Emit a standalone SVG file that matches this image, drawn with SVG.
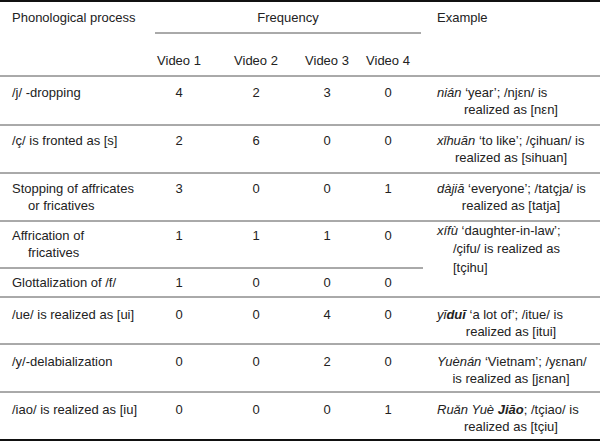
<svg xmlns="http://www.w3.org/2000/svg" width="600" height="441" viewBox="0 0 600 441">
<style>
text{font-family:"Liberation Sans",Arial,sans-serif;font-size:13px;fill:#222}
.c{text-anchor:middle}
.i{font-style:italic}
.b{font-weight:bold;font-style:italic}
.r{stroke:#555;stroke-width:1}
.t{stroke:#111;stroke-width:2}
</style>
<rect width="600" height="441" fill="#fff"/>
<g id="rules">
<line class="t" x1="0" y1="1" x2="600" y2="1"/>
<line class="r" x1="155" y1="33" x2="421" y2="33"/>
<line class="r" x1="0" y1="76" x2="600" y2="76"/>
<line class="r" x1="0" y1="125" x2="600" y2="125"/>
<line class="r" x1="0" y1="173" x2="600" y2="173"/>
<line class="r" x1="0" y1="221" x2="600" y2="221"/>
<line class="r" x1="0" y1="268" x2="423" y2="268"/>
<line class="r" x1="0" y1="297" x2="600" y2="297"/>
<line class="r" x1="0" y1="344" x2="600" y2="344"/>
<line class="r" x1="0" y1="392" x2="600" y2="392"/>
<line class="t" x1="0" y1="440" x2="600" y2="440"/>
</g>
<g id="header">
<text x="12" y="22">Phonological process</text>
<text class="c" x="288" y="22">Frequency</text>
<text x="437" y="22">Example</text>
<text class="c" x="179" y="65">Video 1</text>
<text class="c" x="256" y="65">Video 2</text>
<text class="c" x="327" y="65">Video 3</text>
<text class="c" x="388" y="65">Video 4</text>
</g>
<g id="row1">
<text x="12" y="97">/j/ -dropping</text>
<text class="c" x="179" y="97">4</text><text class="c" x="256" y="97">2</text><text class="c" x="327" y="97">3</text><text class="c" x="388" y="97">0</text>
<text x="437" y="97"><tspan class="i">nián</tspan> ‘year’; /njεn/ is</text>
<text class="c" x="511" y="114">realized as [nεn]</text>
</g>
<g id="row2">
<text x="12" y="145">/ç/ is fronted as [s]</text>
<text class="c" x="179" y="145">2</text><text class="c" x="256" y="145">6</text><text class="c" x="327" y="145">0</text><text class="c" x="388" y="145">0</text>
<text x="437" y="145"><tspan class="i">xǐhuān</tspan> ‘to like’; /çihuan/ is</text>
<text class="c" x="511" y="162">realized as [sihuan]</text>
</g>
<g id="row3">
<text x="12" y="193">Stopping of affricates</text>
<text x="28" y="210">or fricatives</text>
<text class="c" x="179" y="193">3</text><text class="c" x="256" y="193">0</text><text class="c" x="327" y="193">0</text><text class="c" x="388" y="193">1</text>
<text x="437" y="193"><tspan class="i">dàjiā</tspan> ‘everyone’; /tatçja/ is</text>
<text class="c" x="511" y="210">realized as [tatja]</text>
</g>
<g id="row4">
<text x="12" y="240">Affrication of</text>
<text x="28" y="257">fricatives</text>
<text class="c" x="179" y="240">1</text><text class="c" x="256" y="240">1</text><text class="c" x="327" y="240">1</text><text class="c" x="388" y="240">0</text>
<text x="437" y="235"><tspan class="i">xífù</tspan> ‘daughter-in-law’;</text>
<text x="453" y="253">/çifu/ is realized as</text>
<text x="453" y="272">[tçihu]</text>
</g>
<g id="row5">
<text x="12" y="287">Glottalization of /f/</text>
<text class="c" x="179" y="287">1</text><text class="c" x="256" y="287">0</text><text class="c" x="327" y="287">0</text><text class="c" x="388" y="287">0</text>
</g>
<g id="row6">
<text x="12" y="319">/ue/ is realized as [ui]</text>
<text class="c" x="179" y="319">0</text><text class="c" x="256" y="319">0</text><text class="c" x="327" y="319">4</text><text class="c" x="388" y="319">0</text>
<text x="437" y="319"><tspan class="i">yī</tspan><tspan class="b">duī</tspan> ‘a lot of’; /itue/ is</text>
<text class="c" x="511" y="336">realized as [itui]</text>
</g>
<g id="row7">
<text x="12" y="366">/y/-delabialization</text>
<text class="c" x="179" y="366">0</text><text class="c" x="256" y="366">0</text><text class="c" x="327" y="366">2</text><text class="c" x="388" y="366">0</text>
<text x="437" y="366"><tspan class="i">Yuènán</tspan> ‘Vietnam’; /yεnan/</text>
<text class="c" x="511" y="383">is realized as [jεnan]</text>
</g>
<g id="row8">
<text x="12" y="414">/iao/ is realized as [iu]</text>
<text class="c" x="179" y="414">0</text><text class="c" x="256" y="414">0</text><text class="c" x="327" y="414">0</text><text class="c" x="388" y="414">1</text>
<text x="437" y="414"><tspan class="i">Ruǎn Yuè</tspan> <tspan class="b">Jiāo</tspan>; /tçiao/ is</text>
<text class="c" x="511" y="431">realized as [tçiu]</text>
</g>
</svg>
